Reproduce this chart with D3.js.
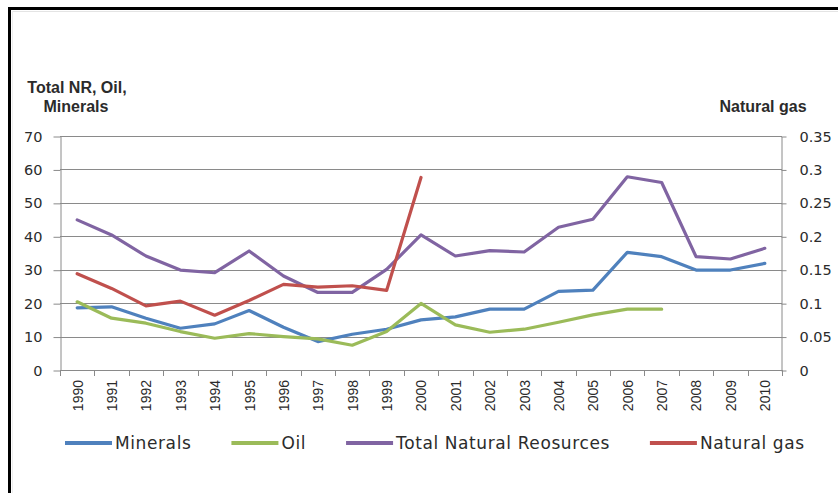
<!DOCTYPE html>
<html>
<head>
<meta charset="utf-8">
<script src="https://cdn.jsdelivr.net/npm/d3@7/dist/d3.min.js"></script>
<style>
  html, body { margin: 0; padding: 0; background: #fff; }
  svg { display: block; }
</style>
</head>
<body>
<svg id="chart" width="838" height="493"></svg>
<script>
// Years on the category axis
const years = ["1990","1991","1992","1993","1994","1995","1996","1997","1998","1999",
               "2000","2001","2002","2003","2004","2005","2006","2007","2008","2009","2010"];

// Left-axis series (rents, % scale 0–70)
const minerals = [18.6, 18.9, 15.5, 12.5, 13.8, 17.8, 12.8, 8.5, 10.7, 12.2,
                  15.0, 15.9, 18.2, 18.2, 23.5, 23.9, 35.2, 33.9, 29.9, 29.9, 31.9];
const oil = [20.4, 15.5, 14.0, 11.5, 9.5, 10.9, 10.0, 9.3, 7.4, 11.5,
             19.9, 13.5, 11.3, 12.2, 14.3, 16.5, 18.2, 18.2, null, null, null];
const totalNR = [44.9, 40.4, 34.1, 29.9, 29.1, 35.6, 28.1, 23.2, 23.2, 30.1,
                 40.4, 34.1, 35.7, 35.3, 42.7, 45.1, 57.8, 56.1, 33.9, 33.2, 36.4];

// Right-axis series (scale 0–0.35)
const naturalGas = [0.144, 0.122, 0.096, 0.103, 0.082, 0.104, 0.128, 0.124, 0.126, 0.119,
                    0.288, null, null, null, null, null, null, null, null, null, null];

// Tick values
const leftTicks = [0, 10, 20, 30, 40, 50, 60, 70];
const rightTicks = [0, 0.05, 0.1, 0.15, 0.2, 0.25, 0.3, 0.35];

// Legend labels and series names
const seriesNames = ["Minerals", "Oil", "Total Natural Reosurces", "Natural gas"];
const leftTitle = ["Total NR, Oil,", "Minerals"];
const rightTitle = "Natural gas";

const colors = ["#4F81BD", "#9BBB59", "#8064A2", "#C0504D"];

const svg = d3.select("#chart");
const plot = { left: 60, right: 782, top: 136, bottom: 370 };

const x = d3.scaleBand().domain(years).range([plot.left, plot.right]).padding(0);
const y = d3.scaleLinear().domain([0, 70]).range([plot.bottom, plot.top]);
const y2 = d3.scaleLinear().domain([0, 0.35]).range([plot.bottom, plot.top]);

const gridColor = "#8a8a8a";
const textColor = "#2b2b2b";
const tickFont = "'DejaVu Sans', Verdana, sans-serif";

// Outer frame (left and top edges)
svg.append("line").attr("x1", 9.5).attr("x2", 9.5).attr("y1", 7).attr("y2", 493)
  .attr("stroke", "#000").attr("stroke-width", 3);
svg.append("line").attr("x1", 8).attr("x2", 838).attr("y1", 8.5).attr("y2", 8.5)
  .attr("stroke", "#000").attr("stroke-width", 3);
svg.append("line").attr("x1", 12).attr("x2", 838).attr("y1", 11.5).attr("y2", 11.5)
  .attr("stroke", "#e4e4e4").attr("stroke-width", 1);
svg.append("line").attr("x1", 12.5).attr("x2", 12.5).attr("y1", 11).attr("y2", 493)
  .attr("stroke", "#eeeeee").attr("stroke-width", 1);

// Horizontal gridlines
svg.append("g").selectAll("line")
  .data(leftTicks.filter(d => d > 0))
  .join("line")
  .attr("x1", plot.left).attr("x2", plot.right)
  .attr("y1", d => Math.round(y(d)) + 0.5).attr("y2", d => Math.round(y(d)) + 0.5)
  .attr("stroke", gridColor).attr("stroke-width", 1);

// Left axis
const leftAxis = svg.append("g")
  .attr("transform", `translate(${plot.left + 0.5},0.5)`)
  .call(d3.axisLeft(y).tickValues(leftTicks).tickSize(7).tickPadding(11).tickSizeOuter(0));
leftAxis.select(".domain").attr("stroke", gridColor);
leftAxis.selectAll(".tick line").attr("stroke", gridColor);
leftAxis.selectAll(".tick text")
  .attr("font-family", tickFont).attr("font-size", "14.5px").attr("fill", textColor);

// Right axis
const rightAxis = svg.append("g")
  .attr("transform", `translate(${plot.right - 0.5},0.5)`)
  .call(d3.axisRight(y2).tickValues(rightTicks).tickSize(5).tickPadding(13).tickSizeOuter(0)
    .tickFormat(d => String(+d.toFixed(2))));
rightAxis.select(".domain").attr("stroke", gridColor);
rightAxis.selectAll(".tick line").attr("stroke", gridColor);
rightAxis.selectAll(".tick text")
  .attr("font-family", tickFont).attr("font-size", "14.5px").attr("fill", textColor);

// Category axis: baseline, boundary ticks, rotated year labels
const xg = svg.append("g");
xg.append("line")
  .attr("x1", plot.left).attr("x2", plot.right)
  .attr("y1", plot.bottom + 0.5).attr("y2", plot.bottom + 0.5)
  .attr("stroke", gridColor);
const boundaries = d3.range(years.length + 1).map(i => plot.left + i * x.step());
xg.selectAll("line.bt").data(boundaries).join("line")
  .attr("class", "bt")
  .attr("x1", d => Math.round(d) + 0.5).attr("x2", d => Math.round(d) + 0.5)
  .attr("y1", plot.bottom).attr("y2", plot.bottom + 6)
  .attr("stroke", gridColor);
xg.selectAll("text").data(years).join("text")
  .attr("transform", d => `translate(${x(d) + x.bandwidth() / 2 + 0.5},${plot.bottom + 10}) rotate(-90)`)
  .attr("text-anchor", "end")
  .attr("dy", "0.35em")
  .attr("font-family", "'Liberation Sans', Arial, sans-serif")
  .attr("font-size", "14px")
  .attr("fill", textColor)
  .text(d => d);

// Series lines
const seriesData = [
  { values: minerals, scale: y },
  { values: oil, scale: y },
  { values: totalNR, scale: y },
  { values: naturalGas, scale: y2 }
];
seriesData.forEach((s, i) => {
  const line = d3.line()
    .defined(d => d != null)
    .x((d, j) => x(years[j]) + x.bandwidth() / 2)
    .y(d => s.scale(d));
  svg.append("path")
    .datum(s.values)
    .attr("d", line)
    .attr("fill", "none")
    .attr("stroke", colors[i])
    .attr("stroke-width", 3.2)
    .attr("stroke-linejoin", "round")
    .attr("stroke-linecap", "round");
});

// Axis titles
const titleFont = "'Liberation Sans', Arial, sans-serif";
svg.append("text").attr("x", 77).attr("y", 93).attr("text-anchor", "middle")
  .attr("font-family", titleFont).attr("font-weight", "bold").attr("font-size", "16px")
  .attr("fill", textColor).text(leftTitle[0]);
svg.append("text").attr("x", 76).attr("y", 112).attr("text-anchor", "middle")
  .attr("font-family", titleFont).attr("font-weight", "bold").attr("font-size", "16px")
  .attr("fill", textColor).text(leftTitle[1]);
svg.append("text").attr("x", 763).attr("y", 112).attr("text-anchor", "middle")
  .attr("font-family", titleFont).attr("font-weight", "bold").attr("font-size", "16px")
  .attr("fill", textColor).text(rightTitle);

// Legend
const legend = svg.append("g");
let lx = 65;
const ly = 443;
seriesNames.forEach((name, i) => {
  legend.append("line")
    .attr("x1", lx).attr("x2", lx + 47)
    .attr("y1", ly).attr("y2", ly)
    .attr("stroke", colors[i]).attr("stroke-width", 4);
  const t = legend.append("text")
    .attr("x", lx + 50).attr("y", ly).attr("dy", "0.35em")
    .attr("font-family", tickFont).attr("font-size", "17px")
    .attr("letter-spacing", "0.6px")
    .attr("fill", textColor)
    .text(name);
  lx += 50 + t.node().getComputedTextLength() + 40;
});
</script>
</body>
</html>
